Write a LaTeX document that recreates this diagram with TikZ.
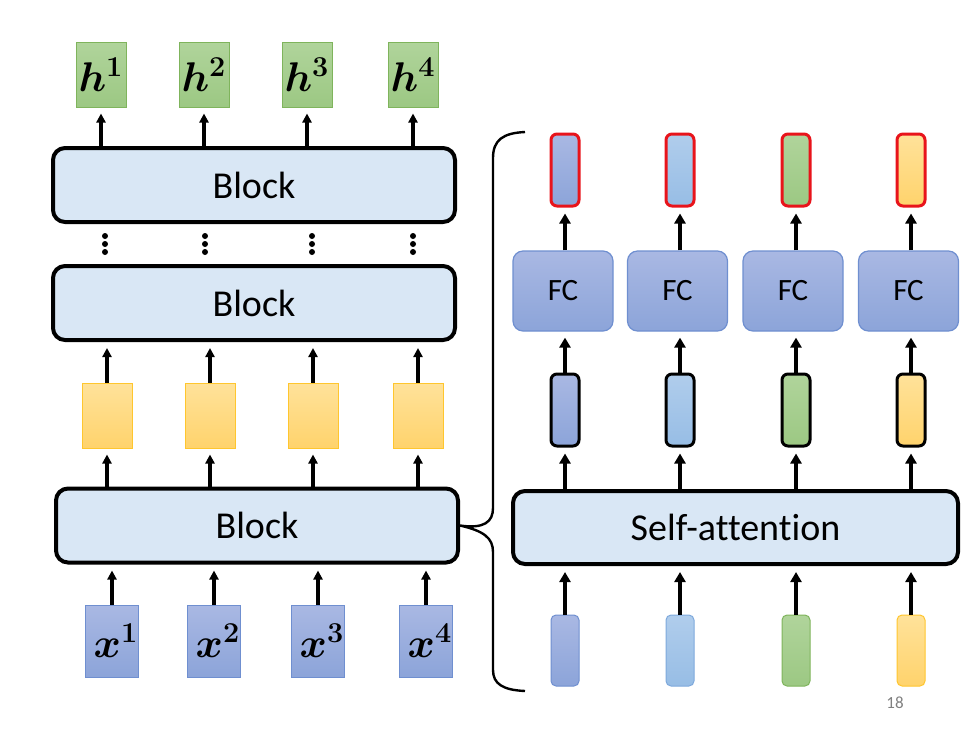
\documentclass[tikz,border=0pt]{standalone}
\usepackage{fontspec}
\setmainfont{Carlito}[Ligatures=NoCommon]
\usepackage{bm}
\usetikzlibrary{arrows.meta}

\definecolor{blockfill}{HTML}{D9E7F5}
\definecolor{vblueA}{HTML}{A9B8E3}
\definecolor{vblueB}{HTML}{8CA4D9}
\definecolor{vblueL}{HTML}{6F8FD0}
\definecolor{vlightA}{HTML}{B0CDEC}
\definecolor{vlightB}{HTML}{97BDE5}
\definecolor{vlightL}{HTML}{7EA9DC}
\definecolor{vgreenA}{HTML}{B0D49B}
\definecolor{vgreenB}{HTML}{9CC883}
\definecolor{vgreenL}{HTML}{7FB45C}
\definecolor{vyellowA}{HTML}{FFE29A}
\definecolor{vyellowB}{HTML}{FFD36C}
\definecolor{vyellowL}{HTML}{FFC62E}
\definecolor{outred}{HTML}{E8141B}

\tikzset{
  blockbox/.style={draw=black, line width=2pt, rounded corners=6pt, fill=blockfill,
    minimum width=201pt, minimum height=37pt, inner sep=0pt, font=\fontsize{19}{21}\selectfont},
  vecbox/.style={draw, line width=0.5pt, inner sep=0pt, minimum width=25pt, minimum height=32.5pt,
    font=\fontsize{20}{22}\selectfont},
  fcbox/.style={draw=vblueL, line width=0.6pt, rounded corners=5pt, top color=vblueA, bottom color=vblueB,
    minimum width=50pt, minimum height=40pt, inner sep=0pt, font=\fontsize{15.5}{17}\selectfont},
  slim/.style={inner sep=0pt, minimum width=14pt, minimum height=36pt, rounded corners=2.5pt},
  arr/.style={-{Triangle[length=4.5pt,width=4.5pt]}, line width=1.6pt, shorten >=3pt},
  arrb/.style={arr, line width=2pt, -{Triangle[length=5pt,width=5.5pt]}},
}

\begin{document}
\begin{tikzpicture}[x=0.5pt,y=-0.5pt]
\useasboundingbox (0,0) rectangle (980,735);

% left: stack of blocks
\node[blockbox] (top) at (254,185) {Block};
\node[blockbox] (mid) at (254,303) {Block};
\node[blockbox] (bot) at (257,525.5) {Block};

\foreach \i/\xh/\xy/\xx/\xd in {1/101/107/112/105, 2/204/210/214/205, 3/307/313/318/312, 4/413/418/426/413} {
  \node[vecbox, draw=vgreenL, top color=vgreenA, bottom color=vgreenB] (h\i) at (\xh,74.5) {$\bm{h^{\i}}$};
  \node[vecbox, draw=vyellowL, top color=vyellowA, bottom color=vyellowB] (y\i) at (\xy,415.5) {};
  \node[vecbox, draw=vblueL, top color=vblueA, bottom color=vblueB, minimum height=36pt] (x\i) at (\xx,641) {\hspace*{4pt}$\bm{x^{\i}}$};
  \draw[arr] (h\i.south |- top.north) -- (h\i.south);
  \draw[arr] (y\i.north) -- (y\i.north |- mid.south);
  \draw[arr] (y\i.south |- bot.north) -- (y\i.south);
  \draw[arr] (x\i.north) -- (x\i.north |- bot.south);
  \foreach \yd in {236,244,252} \fill (\xd,\yd) circle (3);
}

% right: inside one block
\node[blockbox, minimum width=222.5pt, minimum height=36.5pt] (sa) at (735.5,527.5) {Self-attention};

\foreach \i/\xr/\xf/\c in {1/565/563/vblue, 2/680/677.5/vlight, 3/796/793/vgreen, 4/911/908.5/vyellow} {
  \node[slim, draw=outred, line width=1.5pt, rounded corners=3pt, top color=\c A, bottom color=\c B] (r\i) at (\xr,170) {};
  \node[fcbox] (fc\i) at (\xf,291) {FC};
  \node[slim, draw=black, line width=1.5pt, rounded corners=3pt, top color=\c A, bottom color=\c B] (m\i) at (\xr,410) {};
  \node[slim, draw=\c L, line width=0.5pt, top color=\c A, bottom color=\c B, minimum height=35.5pt] (b\i) at (\xr,650.5) {};
  \draw[arrb] (r\i.south |- fc\i.north) -- (r\i.south);
  \draw[arrb] (m\i.north) -- (m\i.north |- fc\i.south);
  \draw[arrb] (m\i.south |- sa.north) -- (m\i.south);
  \draw[arrb] (b\i.north) -- (b\i.north |- sa.south);
}

% brace
\coordinate (tip) at (bot.east);
\draw[line width=1.2pt] (525,132) .. controls (503,133) and (493,140) .. (493,158) -- (493,508)
  .. controls (493,522) and (484,529) .. (tip)
  .. controls (484,531) and (493,538) .. (493,552) -- (493,670)
  .. controls (493,684) and (503,690) .. (525,691);

\node[text=black!50, font=\fontsize{8.5}{10}\selectfont] (page) at (895,703) {18};
\end{tikzpicture}
\end{document}
